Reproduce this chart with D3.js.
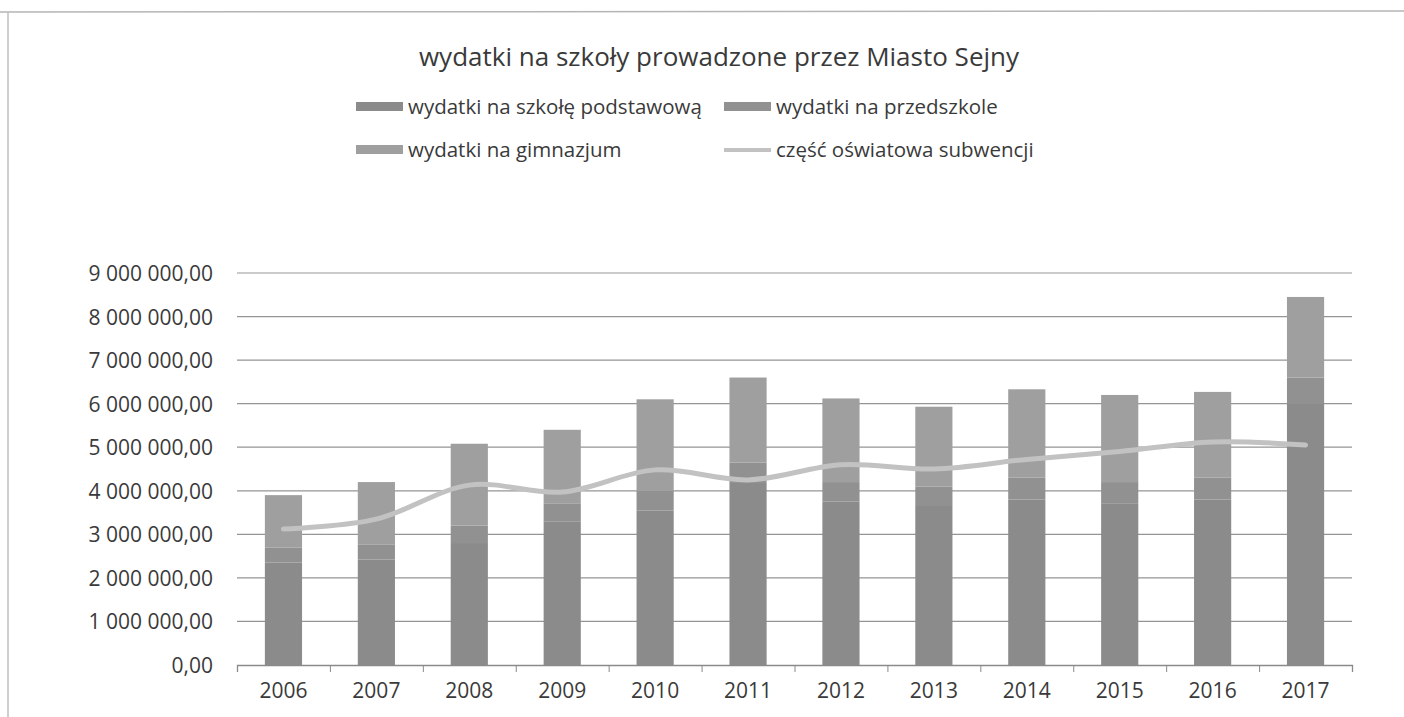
<!DOCTYPE html>
<html>
<head>
<meta charset="utf-8">
<script src="https://cdnjs.cloudflare.com/ajax/libs/d3/7.8.5/d3.min.js"></script>
<style>
  body { margin: 0; background: #fff; }
  text { font-family: "Open Sans", sans-serif; fill: #3a3a3a; }
</style>
</head>
<body>
<script>
// data (PLN)
const years = ['2006', '2007', '2008', '2009', '2010', '2011', '2012', '2013', '2014', '2015', '2016', '2017'];
const podstawowa = [2350000, 2420000, 2800000, 3300000, 3550000, 4200000, 3750000, 3650000, 3800000, 3700000, 3800000, 6000000];
const przedszkole = [350000, 350000, 400000, 400000, 450000, 450000, 450000, 450000, 500000, 500000, 500000, 600000];
const gimnazjum = [1200000, 1430000, 1880000, 1700000, 2100000, 1950000, 1920000, 1830000, 2030000, 2000000, 1970000, 1850000];
const subwencja = [3120000, 3350000, 4130000, 3970000, 4480000, 4250000, 4600000, 4500000, 4720000, 4900000, 5120000, 5050000];
const yTicks = [0, 1000000, 2000000, 3000000, 4000000, 5000000, 6000000, 7000000, 8000000, 9000000];

const seriesNames = ['wydatki na szkołę podstawową', 'wydatki na przedszkole', 'wydatki na gimnazjum'];
const seriesColors = ['#8b8b8b', '#919191', '#9f9f9f'];
const lineName = 'część oświatowa subwencji';
const lineColor = '#c2c2c2';

const width = 1404, height = 717;
const svg = d3.select('body').append('svg').attr('width', width).attr('height', height);

// scan frame
svg.append('line').attr('x1', 0).attr('x2', width).attr('y1', 12).attr('y2', 11)
   .attr('stroke', '#b5b5b5').attr('stroke-width', 1.5);
svg.append('line').attr('x1', 8).attr('x2', 8).attr('y1', 12).attr('y2', height)
   .attr('stroke', '#c0c0c0').attr('stroke-width', 1.5);

const x = d3.scaleBand().domain(years).range([237, 1352]).paddingInner(0.6).paddingOuter(0.3);
const y = d3.scaleLinear().domain([0, 9000000]).range([665, 273]);

const plLocale = d3.formatLocale({ decimal: ',', thousands: '\u00a0', grouping: [3], currency: ['', ' zł'] });
const fmt = plLocale.format(',.2f');

// gridlines
svg.append('g')
   .selectAll('line')
   .data(yTicks.slice(1))
   .enter()
   .append('line')
   .attr('x1', 237).attr('x2', 1352)
   .attr('y1', d => y(d)).attr('y2', d => y(d))
   .attr('stroke', '#959595').attr('stroke-width', 1.2);

// y axis labels
svg.append('g')
   .selectAll('text')
   .data(yTicks)
   .enter()
   .append('text')
   .attr('x', 213)
   .attr('y', d => y(d) + 8)
   .attr('text-anchor', 'end')
   .style('font-size', '21px')
   .text(d => fmt(d));

// stacked bars
const rows = years.map((yr, i) => ({ year: yr, s0: podstawowa[i], s1: przedszkole[i], s2: gimnazjum[i] }));
const stack = d3.stack().keys(['s0', 's1', 's2'])(rows);

svg.append('g')
   .selectAll('g')
   .data(stack)
   .enter()
   .append('g')
   .attr('fill', (d, i) => seriesColors[i])
   .selectAll('rect')
   .data(d => d)
   .enter()
   .append('rect')
   .attr('x', d => x(d.data.year))
   .attr('width', x.bandwidth())
   .attr('y', d => y(d[1]))
   .attr('height', d => y(d[0]) - y(d[1]));

// x axis
const xAxis = d3.axisBottom(d3.scaleLinear().domain([0, years.length]).range([237, 1352]))
   .tickValues(d3.range(years.length + 1))
   .tickSize(7)
   .tickFormat('');
const gx = svg.append('g').attr('transform', 'translate(0,' + y(0) + ')').call(xAxis);
gx.select('.domain').attr('stroke', '#8a8a8a').attr('stroke-width', 1.3);
gx.selectAll('.tick line').attr('stroke', '#8a8a8a');

svg.append('g')
   .selectAll('text')
   .data(years)
   .enter()
   .append('text')
   .attr('x', d => x(d) + x.bandwidth() / 2)
   .attr('y', 698)
   .attr('text-anchor', 'middle')
   .style('font-size', '21px')
   .text(d => d);

// subwencja line
const line = d3.line()
   .x((d, i) => x(years[i]) + x.bandwidth() / 2)
   .y(d => y(d))
   .curve(d3.curveCatmullRom.alpha(0.5));

svg.append('path')
   .datum(subwencja)
   .attr('d', line)
   .attr('fill', 'none')
   .attr('stroke', lineColor)
   .attr('stroke-width', 5)
   .attr('stroke-linecap', 'round');

// title
svg.append('text')
   .attr('x', 719).attr('y', 66)
   .attr('text-anchor', 'middle')
   .style('font-size', '26px')
   .text('wydatki na szkoły prowadzone przez Miasto Sejny');

// legend
const legend = [
  { name: seriesNames[0], color: seriesColors[0], type: 'rect', x: 356, y: 107 },
  { name: seriesNames[1], color: seriesColors[1], type: 'rect', x: 724, y: 107 },
  { name: seriesNames[2], color: seriesColors[2], type: 'rect', x: 356, y: 150 },
  { name: lineName, color: lineColor, type: 'line', x: 724, y: 150 }
];
const lg = svg.append('g').selectAll('g').data(legend).enter().append('g')
   .attr('transform', d => 'translate(' + d.x + ',' + d.y + ')');
lg.filter(d => d.type === 'rect').append('rect')
   .attr('x', 0).attr('y', -5).attr('width', 47).attr('height', 9)
   .attr('fill', d => d.color);
lg.filter(d => d.type === 'line').append('line')
   .attr('x1', 0).attr('x2', 47).attr('y1', 0).attr('y2', 0)
   .attr('stroke', d => d.color).attr('stroke-width', 4);
lg.append('text')
   .attr('x', 52).attr('y', 7)
   .style('font-size', '20.5px')
   .text(d => d.name);
</script>
</body>
</html>
